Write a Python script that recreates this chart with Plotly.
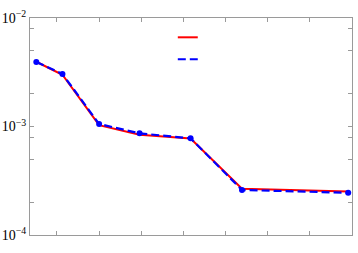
import plotly.graph_objects as go

x_vals = [0.51, 1.13, 2.0, 2.96, 4.17, 5.39, 7.91]
red_vals = [3.95e-3, 3.0e-3, 1.03e-3, 8.4e-4, 7.75e-4, 2.67e-4, 2.52e-4]
blue_vals = [3.93e-3, 3.05e-3, 1.055e-3, 8.65e-4, 7.78e-4, 2.6e-4, 2.45e-4]
x_ticks = [1, 2, 3, 4, 5, 6, 7, 8]
y_ticks = [1e-4, 1e-3, 1e-2]
y_ticktext = ["10<sup>\u22124</sup>", "10<sup>\u22123</sup>", "10<sup>\u22122</sup>"]
y_minor = [m * 10.0 ** e for e in (-4, -3) for m in (2, 5, 8)]

fig = go.Figure()
fig.add_trace(go.Scatter(x=x_vals, y=red_vals, mode="lines",
                         line=dict(color="#ff0000", width=2), name="", showlegend=False))
fig.add_trace(go.Scatter(x=x_vals, y=blue_vals, mode="lines+markers",
                         line=dict(color="#0000ff", width=2.2, dash="8px,4px"),
                         marker=dict(color="#0000ff", size=6), name="", showlegend=False))

# legend samples
fig.add_shape(type="line", xref="paper", yref="paper", x0=0.459, x1=0.521, y0=0.911, y1=0.911,
              line=dict(color="#ff0000", width=2))
fig.add_shape(type="line", xref="paper", yref="paper", x0=0.459, x1=0.521, y0=0.81, y1=0.81,
              line=dict(color="#0000ff", width=2, dash="8px,4px"))

axis_col = "#9a9a9a"
serif = "Liberation Serif, Times New Roman, serif"
fig.update_layout(
    width=358, height=253,
    margin=dict(l=30, r=6, t=18, b=18, autoexpand=False),
    plot_bgcolor="white", paper_bgcolor="white",
    font=dict(family=serif, size=14, color="black"),
    xaxis=dict(range=[0.36, 8.0], tickvals=x_ticks, showticklabels=False, automargin=False,
               ticks="inside", ticklen=4, tickcolor=axis_col, showline=True,
               linecolor=axis_col, linewidth=1, mirror="ticks", showgrid=False, zeroline=False),
    yaxis=dict(type="log", range=[-4, -2], tickvals=y_ticks, ticktext=y_ticktext, automargin=False,
               tickfont=dict(family=serif, size=14, color="black"),
               ticks="inside", ticklen=4, tickcolor=axis_col, showline=True, ticklabelstandoff=0,
               linecolor=axis_col, linewidth=1, mirror="ticks", showgrid=False, zeroline=False,
               minor=dict(tickvals=y_minor, ticks="inside", ticklen=4, tickcolor=axis_col, showgrid=False)),
)
fig.write_html("out.html", config={"displayModeBar": False},
               post_script="document.body.style.margin='0';document.body.style.padding='0';")
